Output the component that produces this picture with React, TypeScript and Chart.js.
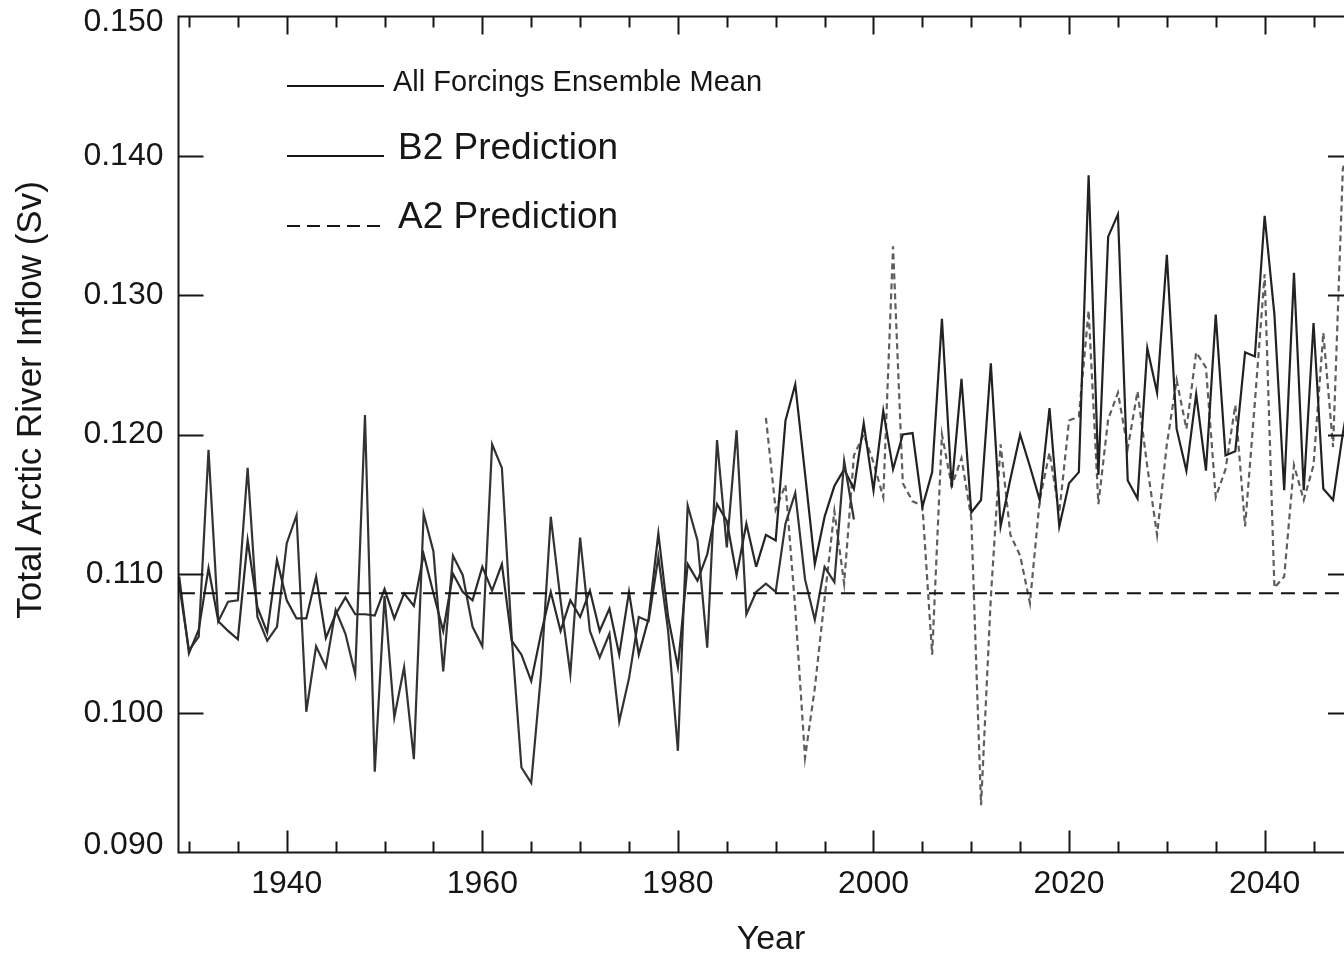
import React, { useEffect, useRef } from 'react';
import { Chart, registerables } from 'chart.js';

Chart.register(...registerables);

// ---------------- data (Sv) ----------------
const ENSEMBLE_START = 1929;
const ENSEMBLE_MEAN = [
  0.1098, 0.1043, 0.1060, 0.1104, 0.1066, 0.1059, 0.1053, 0.1124, 0.1076, 0.1058,
  0.1110, 0.1081, 0.1068, 0.1068, 0.1098, 0.1054, 0.1071, 0.1083, 0.1071, 0.1071,
  0.1070, 0.1089, 0.1068, 0.1086, 0.1077, 0.1114, 0.1086, 0.1059, 0.1100, 0.1087,
  0.1081, 0.1105, 0.1088, 0.1107, 0.1052, 0.1042, 0.1023, 0.1057, 0.1087, 0.1059,
  0.1081, 0.1069, 0.1088, 0.1059, 0.1075, 0.1042, 0.1087, 0.1042, 0.1068, 0.1129,
  0.1069, 0.1033, 0.1107, 0.1095, 0.1114, 0.1150, 0.1138, 0.1099, 0.1136, 0.1105,
];

const OBSERVED_START = 1929;
const OBSERVED = [
  0.1092, 0.1045, 0.1055, 0.1189, 0.1066, 0.1080, 0.1081, 0.1176, 0.1069, 0.1052,
  0.1062, 0.1122, 0.1142, 0.1001, 0.1048, 0.1033, 0.1074, 0.1057, 0.1028, 0.1214,
  0.0958, 0.1084, 0.0997, 0.1033, 0.0967, 0.1143, 0.1116, 0.1030, 0.1113, 0.1099,
  0.1062, 0.1048, 0.1193, 0.1176, 0.1055, 0.0961, 0.0950, 0.1028, 0.1141, 0.1081,
  0.1028, 0.1126, 0.1059, 0.1040, 0.1057, 0.0994, 0.1025, 0.1069, 0.1066, 0.1112,
  0.1059, 0.0973, 0.1149, 0.1124, 0.1047, 0.1196, 0.1119, 0.1203, 0.1071, 0.1087,
  0.1093, 0.1087, 0.1136, 0.1158, 0.1096, 0.1067, 0.1105, 0.1094, 0.1181, 0.1139,
];

const B2_START = 1988;
const B2_PREDICTION = [
  0.1105, 0.1128, 0.1124, 0.1210, 0.1236, 0.1172, 0.1107, 0.1141, 0.1163, 0.1175,
  0.1161, 0.1208, 0.1160, 0.1217, 0.1175, 0.1200, 0.1201, 0.1148, 0.1173, 0.1283,
  0.1162, 0.1240, 0.1144, 0.1153, 0.1251, 0.1134, 0.1168, 0.1200, 0.1177, 0.1153,
  0.1219, 0.1134, 0.1165, 0.1173, 0.1386, 0.1171, 0.1342, 0.1358, 0.1167, 0.1154,
  0.1262, 0.1230, 0.1329, 0.1204, 0.1174, 0.1229, 0.1174, 0.1286, 0.1185, 0.1188,
  0.1259, 0.1256, 0.1357, 0.1286, 0.1160, 0.1316, 0.1160, 0.1280, 0.1161, 0.1153,
  0.1201, 0.1240,
];

const A2_START = 1989;
const A2_PREDICTION = [
  0.1212, 0.1146, 0.1164, 0.1075, 0.0968, 0.1018, 0.1082, 0.1145, 0.1093, 0.1185,
  0.1200, 0.1180, 0.1155, 0.1335, 0.1165, 0.1152, 0.1149, 0.1042, 0.1200, 0.1163,
  0.1183, 0.1140, 0.0934, 0.1083, 0.1193, 0.1128, 0.1113, 0.1079, 0.1153, 0.1187,
  0.1144, 0.1210, 0.1213, 0.1289, 0.1150, 0.1211, 0.1230, 0.1190, 0.1231, 0.1177,
  0.1128, 0.1193, 0.1239, 0.1204, 0.1259, 0.1248, 0.1155, 0.1175, 0.1221, 0.1134,
  0.1223, 0.1315, 0.1090, 0.1098, 0.1178, 0.1153, 0.1178, 0.1273, 0.1191, 0.1391,
  0.1410,
];

const REFERENCE_LEVEL = 0.1086;

const X_MIN = 1928.93;
const X_MAX = 2048.32;
const Y_MIN = 0.09;
const Y_MAX = 0.15;
const Y_TICKS = [0.09, 0.1, 0.11, 0.12, 0.13, 0.14, 0.15];
const X_LABEL_YEARS = [1940, 1960, 1980, 2000, 2020, 2040];
const X_MINOR_STEP = 5;
const X_TICK_FIRST = 1930;
const X_TICK_LAST = 2045;
const Y_INNER_TICKS = [0.1, 0.11, 0.12, 0.13, 0.14];

const X_TITLE = 'Year';
const Y_TITLE = 'Total Arctic River Inflow (Sv)';
const LEGEND_LABELS = ['All Forcings Ensemble Mean', 'B2 Prediction', 'A2 Prediction'];

const FONT = "'Liberation Sans', Arial, Helvetica, sans-serif";
const INK = '#161616';

function toPoints(start: number, values: number[]) {
  return values.map((v, i) => ({ x: start + i, y: v }));
}

const framePlugin = {
  id: 'frameAndLegend',
  afterDraw(chart: any) {
    const { ctx, chartArea, scales } = chart;
    const { left, right, top, bottom } = chartArea;
    const xs = scales.x;
    const ys = scales.y;
    ctx.save();

    // frame
    ctx.strokeStyle = INK;
    ctx.lineWidth = 2;
    ctx.setLineDash([]);
    ctx.strokeRect(left, top, right - left, bottom - top);

    // inward tick marks
    ctx.beginPath();
    for (let yr = X_TICK_FIRST; yr <= X_TICK_LAST; yr += X_MINOR_STEP) {
      const px = Math.round(xs.getPixelForValue(yr)) + 0.5;
      const major = yr % 20 === 0;
      ctx.moveTo(px, bottom);
      ctx.lineTo(px, bottom - (major ? 22 : 11));
      ctx.moveTo(px, top);
      ctx.lineTo(px, top + (major ? 18 : 11));
    }
    for (const v of Y_INNER_TICKS) {
      const py = Math.round(ys.getPixelForValue(v)) + 0.5;
      ctx.moveTo(left, py);
      ctx.lineTo(left + 25, py);
      ctx.moveTo(right, py);
      ctx.lineTo(right - 18, py);
    }
    ctx.stroke();

    // y tick labels (end labels kept inside the frame height)
    ctx.fillStyle = INK;
    ctx.textAlign = 'right';
    ctx.textBaseline = 'middle';
    ctx.font = `32px ${FONT}`;
    for (const v of Y_TICKS) {
      let py = ys.getPixelForValue(v);
      py = Math.min(Math.max(py, top + 6), bottom - 7);
      ctx.fillText(v.toFixed(3), left - 15, py);
    }

    // axis titles
    ctx.textAlign = 'center';
    ctx.font = `34px ${FONT}`;
    ctx.fillText(X_TITLE, 771, 940);
    ctx.save();
    ctx.translate(31, 400);
    ctx.rotate(-Math.PI / 2);
    ctx.font = `35px ${FONT}`;
    ctx.fillText(Y_TITLE, 0, 0);
    ctx.restore();

    // legend
    const items = [
      { label: LEGEND_LABELS[0], y: 86, ty: 83, size: 29, dash: [] as number[], tx: 393 },
      { label: LEGEND_LABELS[1], y: 156, ty: 149, size: 37, dash: [] as number[], tx: 398 },
      { label: LEGEND_LABELS[2], y: 226, ty: 218, size: 37, dash: [13, 7], tx: 398 },
    ];
    ctx.textAlign = 'left';
    for (const it of items) {
      ctx.beginPath();
      ctx.setLineDash(it.dash);
      ctx.lineWidth = 2;
      ctx.moveTo(287, it.y);
      ctx.lineTo(384, it.y);
      ctx.stroke();
      ctx.setLineDash([]);
      ctx.font = `${it.size}px ${FONT}`;
      ctx.fillText(it.label, it.tx, it.ty);
    }
    ctx.restore();
  },
};

export default function App() {
  const ref = useRef<HTMLCanvasElement>(null);

  useEffect(() => {
    if (!ref.current) return;
    const lineBase = {
      pointRadius: 0,
      pointHoverRadius: 0,
      fill: false,
      tension: 0,
      borderWidth: 2.2,
    };
    const chart = new Chart(ref.current, {
      type: 'line',
      data: {
        datasets: [
          {
            ...lineBase,
            borderWidth: 2,
            label: 'Reference level',
            data: [
              { x: X_MIN - 2, y: REFERENCE_LEVEL },
              { x: X_MAX + 2, y: REFERENCE_LEVEL },
            ],
            borderColor: '#111111',
            borderDash: [14, 8],
          },
          {
            ...lineBase,
            label: LEGEND_LABELS[0],
            data: toPoints(ENSEMBLE_START, ENSEMBLE_MEAN),
            borderColor: '#2b2b2b',
          },
          {
            ...lineBase,
            label: 'Observed',
            data: toPoints(OBSERVED_START, OBSERVED),
            borderColor: '#333333',
          },
          {
            ...lineBase,
            label: LEGEND_LABELS[1],
            data: toPoints(B2_START, B2_PREDICTION),
            borderColor: '#222222',
          },
          {
            ...lineBase,
            label: LEGEND_LABELS[2],
            data: toPoints(A2_START, A2_PREDICTION),
            borderColor: '#5e5e5e',
            borderDash: [6, 4],
          },
        ],
      },
      options: {
        responsive: false,
        maintainAspectRatio: false,
        animation: false,
        devicePixelRatio: 1,
        layout: { padding: { left: 0, right: 6, top: 16.5, bottom: 0 } },
        plugins: {
          legend: { display: false },
          tooltip: { enabled: false },
        },
        scales: {
          x: {
            type: 'linear',
            min: X_MIN,
            max: X_MAX,
            grid: { display: false, drawTicks: false, tickLength: 0 },
            border: { display: false },
            afterBuildTicks: (scale: any) => {
              scale.ticks = X_LABEL_YEARS.map((v) => ({ value: v }));
            },
            afterFit: (scale: any) => {
              scale.height = 106.5;
              scale.paddingLeft = 0;
              scale.paddingRight = 0;
            },
            ticks: {
              autoSkip: false,
              maxRotation: 0,
              padding: 16,
              color: INK,
              font: { family: FONT, size: 32, lineHeight: 1 },
              callback: (v: any) => String(v),
            },
          },
          y: {
            type: 'linear',
            min: Y_MIN,
            max: Y_MAX,
            grid: { display: false, drawTicks: false, tickLength: 0 },
            border: { display: false },
            afterBuildTicks: (scale: any) => {
              scale.ticks = Y_TICKS.map((v) => ({ value: v }));
            },
            afterFit: (scale: any) => {
              scale.width = 178.5;
              scale.paddingTop = 0;
              scale.paddingBottom = 0;
            },
            ticks: {
              display: false,
              padding: 15,
              font: { family: FONT, size: 32, lineHeight: 1 },
            },
          },
        },
      },
      plugins: [framePlugin],
    } as any);
    return () => chart.destroy();
  }, []);

  return (
    <div
      style={{
        position: 'fixed',
        left: 0,
        top: 0,
        width: 1344,
        height: 959,
        overflow: 'hidden',
        background: '#ffffff',
      }}
    >
      <canvas ref={ref} width={1352} height={959} style={{ display: 'block', width: 1352, height: 959 }} />
    </div>
  );
}
